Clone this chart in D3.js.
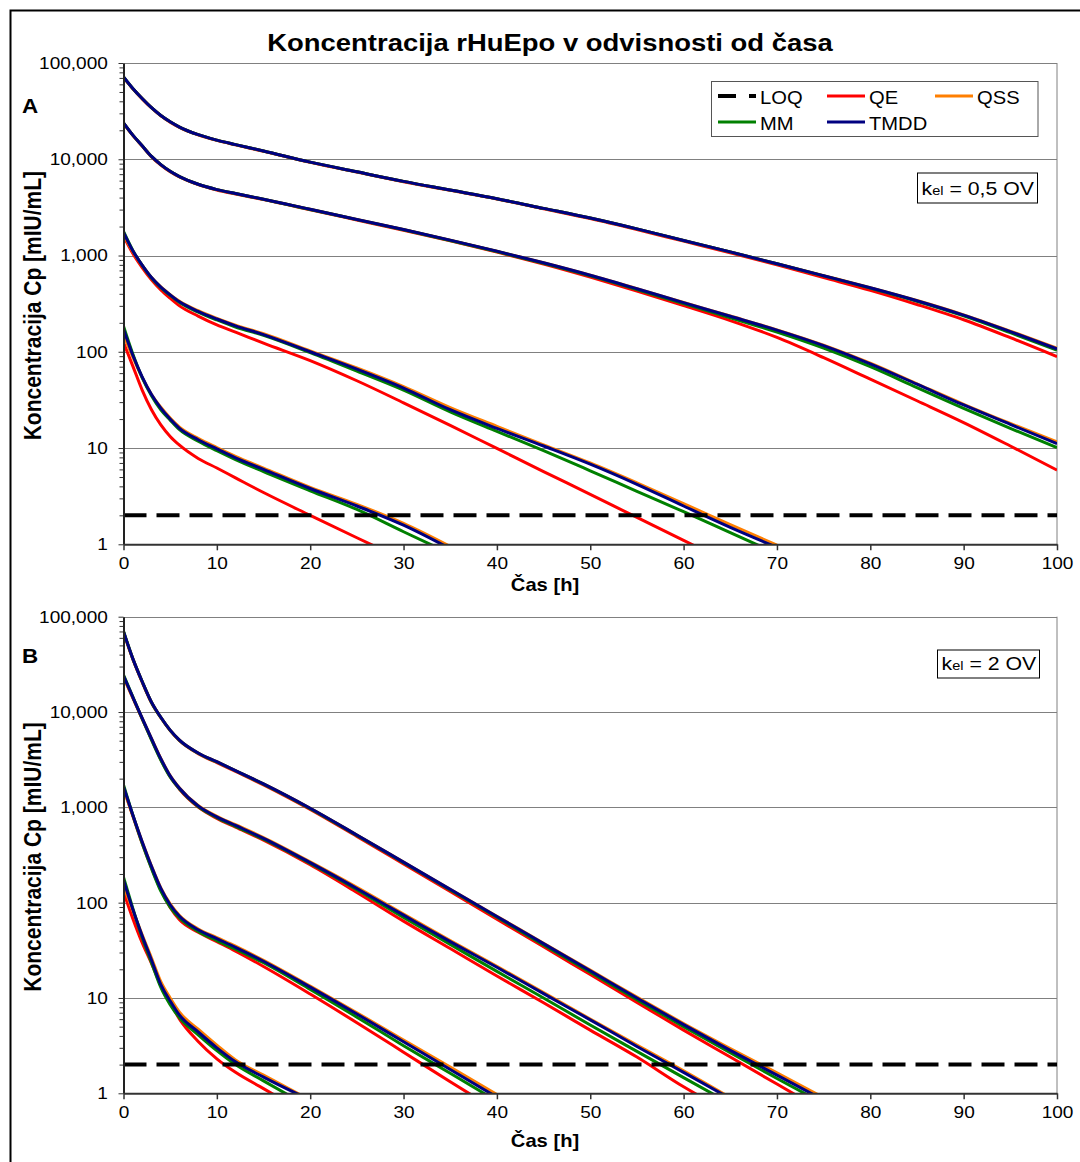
<!DOCTYPE html>
<html>
<head>
<meta charset="utf-8">
<script src="https://cdn.jsdelivr.net/npm/d3@7"></script>
<style>
body { margin: 0; background: #fff; }
text { font-family: Arial, "Liberation Sans", sans-serif; }
</style>
</head>
<body>
<script>
// time grid (h) shared by every series; a row stops once the curve is below 1
var hours = [0, 1, 2, 3, 4, 5, 6, 8, 10, 12, 15, 20, 25, 30, 35, 40, 45, 50, 55, 60, 65, 70, 75, 80, 85, 90, 95, 100];
var yTicks = [1, 10, 100, 1000, 10000, 100000];
var xTicks = [0, 10, 20, 30, 40, 50, 60, 70, 80, 90, 100];
var models = ['QE', 'QSS', 'MM', 'TMDD'];
var loqValue = 2;

// panel A, kel = 0,5 OV : one row per dose level
var qeA = [
	[71000, 53900, 42400, 34100, 28300, 24300, 21400, 17900, 15700, 14100, 12100, 9280, 7360, 5850, 4750, 3860, 3060, 2420, 1860, 1410, 1070, 800, 590, 435, 310, 215, 140, 89],
	[23700, 17700, 13700, 10600, 8720, 7430, 6550, 5450, 4790, 4350, 3810, 2990, 2340, 1830, 1420, 1085, 815, 596, 427, 302, 211, 141, 87, 52, 31, 18.4, 10.5, 5.9],
	[1600, 1050, 750, 560, 440, 360, 300, 235, 190, 160, 123, 81, 50, 29.5, 17.2, 9.9, 5.7, 3.3, 1.9, 1.1, 0.63],
	[125, 71, 40, 25, 17.4, 13.2, 10.7, 7.8, 6.2, 4.9, 3.45, 2.0, 1.17, 0.69]
];
var qssA = [
	[70500, 54100, 42700, 34300, 28500, 24500, 21600, 18000, 15800, 14200, 12200, 9330, 7410, 5890, 4790, 3890, 3090, 2450, 1890, 1435, 1090, 822, 618, 464, 341, 242, 164, 109],
	[23500, 17700, 13800, 10700, 8810, 7500, 6610, 5500, 4840, 4400, 3850, 3020, 2370, 1860, 1445, 1110, 840, 624, 452, 325, 235, 169, 117, 76, 46.5, 28.5, 18, 11.6],
	[1650, 1100, 790, 590, 472, 393, 334, 267, 222, 189, 154, 102, 68, 43.5, 26.3, 16.8, 10.8, 7.0, 4.35, 2.65, 1.6, 0.98],
	[150, 88, 54, 36, 26.5, 20.5, 16.5, 12.6, 10.1, 8.2, 6.2, 3.9, 2.6, 1.65, 0.95]
];
var mmA = [
	[71600, 54300, 42700, 34300, 28500, 24500, 21600, 18000, 15800, 14200, 12200, 9330, 7410, 5890, 4790, 3890, 3090, 2450, 1890, 1435, 1090, 822, 615, 458, 335, 236, 158, 104],
	[23900, 17800, 13800, 10700, 8810, 7500, 6610, 5500, 4840, 4400, 3850, 3010, 2360, 1850, 1435, 1100, 830, 615, 444, 316, 226, 160, 109, 70, 42.5, 25.8, 16, 10.1],
	[1780, 1130, 790, 585, 465, 385, 325, 258, 214, 181, 148, 98, 63, 40, 23.8, 14.9, 9.4, 5.8, 3.55, 2.18, 1.32, 0.8],
	[185, 95, 54, 35, 25, 19.5, 15.5, 11.8, 9.4, 7.6, 5.7, 3.6, 2.3, 1.35, 0.8]
];
var tmddA = [
	[71600, 54300, 42700, 34300, 28500, 24500, 21600, 18000, 15800, 14200, 12200, 9330, 7410, 5890, 4790, 3890, 3090, 2450, 1890, 1435, 1090, 822, 617, 462, 339, 240, 162, 107],
	[23900, 17800, 13800, 10700, 8810, 7500, 6610, 5500, 4840, 4400, 3850, 3020, 2370, 1860, 1445, 1110, 840, 624, 452, 324, 234, 168, 116, 75, 46, 28, 17.6, 11.1],
	[1740, 1120, 795, 590, 470, 390, 330, 263, 219, 186, 151, 100, 66, 42, 25, 16, 10.5, 6.8, 4.2, 2.5, 1.5, 0.93],
	[172, 92, 55, 36, 26, 20, 16, 12.2, 9.8, 7.9, 6.0, 3.8, 2.5, 1.58, 0.9]
];

// panel B, kel = 2 OV
var qeB = [
	[69000, 35800, 20600, 12500, 8700, 6380, 5000, 3660, 2950, 2380, 1720, 950, 495, 255, 131, 67, 34.5, 17.6, 9.0, 4.6, 2.4, 1.25, 0.65],
	[23500, 14100, 8450, 5150, 3170, 2090, 1545, 1005, 766, 620, 452, 250, 128, 64, 33, 17, 8.9, 4.6, 2.4, 1.17, 0.62],
	[1600, 810, 420, 232, 136, 89, 66, 49, 39, 31, 21.4, 11, 5.5, 2.7, 1.32, 0.66],
	[130, 68, 38, 23, 13.5, 8.9, 6.0, 3.5, 2.3, 1.66, 1.12, 0.58]
];
var qssB = [
	[69000, 36300, 20900, 12700, 8810, 6460, 5070, 3720, 3010, 2430, 1760, 977, 513, 266, 138, 72, 37.5, 19.6, 10.2, 5.4, 2.95, 1.64, 0.9],
	[23000, 14200, 8610, 5250, 3250, 2150, 1595, 1045, 805, 657, 482, 268, 145, 76, 40, 21.5, 11.4, 6.0, 3.2, 1.72, 0.9],
	[1550, 820, 435, 242, 143, 97, 73.5, 53, 43, 35, 24.8, 13.3, 7.0, 3.63, 1.88, 0.97],
	[150, 83, 46, 26.3, 14.8, 10, 7.1, 4.7, 3.2, 2.24, 1.55, 0.85]
];
var mmB = [
	[70500, 36300, 20900, 12600, 8760, 6420, 5040, 3700, 2990, 2420, 1750, 970, 508, 263, 136, 70.5, 36, 18.6, 9.6, 5.0, 2.66, 1.43, 0.78],
	[24500, 14400, 8500, 5100, 3130, 2080, 1560, 1020, 780, 632, 463, 258, 137, 70, 36.5, 19, 10, 5.2, 2.75, 1.46, 0.78],
	[1720, 830, 420, 228, 132, 90, 69, 50, 40, 32.5, 23.4, 12.3, 6.3, 3.16, 1.62, 0.83],
	[185, 87, 43, 23.5, 12.9, 8.5, 6.2, 4.1, 2.8, 2.0, 1.35, 0.71]
];
var tmddB = [
	[69800, 36300, 20900, 12700, 8810, 6460, 5070, 3720, 3010, 2430, 1760, 977, 513, 266, 138, 71.6, 37.2, 19.3, 10, 5.25, 2.82, 1.55, 0.85],
	[23900, 14300, 8610, 5250, 3240, 2140, 1585, 1035, 794, 646, 473, 263, 141, 74, 39, 21, 11.1, 5.9, 3.1, 1.66, 0.88],
	[1650, 830, 435, 240, 141, 95, 72, 52, 42, 34, 24.3, 13.0, 6.8, 3.47, 1.78, 0.91],
	[173, 85, 45, 25, 13.8, 9.3, 6.6, 4.4, 3.0, 2.14, 1.48, 0.85]
];

var colors = { LOQ: '#000000', QE: '#ff0000', QSS: '#ff7f00', MM: '#008000', TMDD: '#000080' };

var width = 1080, height = 1162;
var sx = 1.12; // the source picture is stretched sideways, text follows it
var x0 = 123.5, x1 = 1057;

var panels = [
	{ id: 'A', top: 63, bottom: 544.3, series: { QE: qeA, QSS: qssA, MM: mmA, TMDD: tmddA },
		kel: '0,5 OV', box: [917.5, 173, 120, 30], labelY: 113, titleY: 591 },
	{ id: 'B', top: 616.7, bottom: 1093.3, series: { QE: qeB, QSS: qssB, MM: mmB, TMDD: tmddB },
		kel: '2 OV', box: [937.5, 650, 102, 28], labelY: 663, titleY: 1147 }
];

var svg = d3.select('body').append('svg').attr('width', width).attr('height', height);
svg.append('rect').attr('width', width).attr('height', height).attr('fill', '#fff');
svg.append('rect').attr('x', 10.5).attr('y', 10.5).attr('width', width).attr('height', height)
	.attr('fill', 'none').attr('stroke', '#000').attr('stroke-width', 2);

function stretched(x, y, extra) {
	return 'translate(' + x + ',' + y + ') scale(' + sx + ',1)' + (extra || '');
}

svg.append('text').attr('transform', stretched(550, 50.5))
	.attr('text-anchor', 'middle').attr('font-size', 24.5).attr('font-weight', 'bold')
	.text('Koncentracija rHuEpo v odvisnosti od časa');

function drawPanel(p) {
	var g = svg.append('g');
	var x = d3.scaleLinear().domain([0, 100]).range([x0, x1]);
	var y = d3.scaleLog().domain([1, 100000]).range([p.bottom, p.top]);

	// gridlines + right edge of the plot area
	g.append('g').selectAll('line').data(yTicks.slice(1)).join('line')
		.attr('x1', x0).attr('x2', x1).attr('y1', d => Math.round(y(d)) + 0.5).attr('y2', d => Math.round(y(d)) + 0.5)
		.attr('stroke', '#808080').attr('stroke-width', 1);
	g.append('line').attr('x1', x1).attr('x2', x1).attr('y1', p.top).attr('y2', p.bottom)
		.attr('stroke', '#808080').attr('stroke-width', 1);

	svg.append('clipPath').attr('id', 'clip' + p.id).append('rect')
		.attr('x', x0).attr('y', p.top).attr('width', x1 - x0).attr('height', p.bottom - p.top);

	var line = d3.line().x(d => x(d[0])).y(d => y(d[1])).curve(d3.curveMonotoneX);
	var curves = g.append('g').attr('clip-path', 'url(#clip' + p.id + ')');

	models.forEach(m => {
		p.series[m].forEach(row => {
			curves.append('path')
				.datum(row.map((v, i) => [hours[i], v]))
				.attr('d', line)
				.attr('fill', 'none')
				.attr('stroke', colors[m])
				.attr('stroke-width', 3)
				.attr('stroke-linejoin', 'round');
		});
	});

	curves.append('path').datum([[0, loqValue], [100, loqValue]])
		.attr('d', line).attr('fill', 'none').attr('stroke', colors.LOQ)
		.attr('stroke-width', 4).attr('stroke-dasharray', '23,10');

	// axes
	var minor = [];
	yTicks.slice(0, -1).forEach(d => { for (var k = 2; k < 10; k++) minor.push(d * k); });
	g.append('g').attr('transform', 'translate(' + x0 + ',0)')
		.call(d3.axisLeft(y).tickValues(minor).tickSize(4).tickSizeOuter(0).tickFormat(''))
		.call(a => a.select('.domain').remove())
		.selectAll('line').attr('stroke', '#333');

	var ya = g.append('g').attr('transform', 'translate(' + x0 + ',0)')
		.call(d3.axisLeft(y).tickValues(yTicks).tickSize(5).tickSizeOuter(0).tickPadding(9).tickFormat(d3.format(',')));
	ya.select('.domain').attr('stroke', '#222').attr('stroke-width', 2);
	ya.selectAll('line').attr('stroke', '#333');
	ya.selectAll('text').attr('font-size', 17).attr('fill', '#000')
		.attr('font-family', 'Arial, "Liberation Sans", sans-serif')
		.attr('transform', 'scale(' + sx + ',1)');

	var xa = g.append('g').attr('transform', 'translate(0,' + p.bottom + ')')
		.call(d3.axisBottom(x).tickValues(xTicks).tickSize(6).tickSizeOuter(0).tickPadding(7));
	xa.select('.domain').attr('stroke', '#333').attr('stroke-width', 2);
	xa.selectAll('line').attr('stroke', '#333').attr('stroke-width', 1.5);
	xa.selectAll('text').attr('font-size', 17).attr('fill', '#000')
		.attr('font-family', 'Arial, "Liberation Sans", sans-serif')
		.attr('transform', 'scale(' + sx + ',1)');

	// axis titles
	svg.append('text').attr('transform', stretched(545, p.titleY))
		.attr('text-anchor', 'middle').attr('font-size', 18).attr('font-weight', 'bold')
		.text('Čas [h]');
	svg.append('text').attr('transform', stretched(41, (p.top + p.bottom) / 2 + 2, ' rotate(-90)'))
		.attr('text-anchor', 'middle').attr('font-size', 21).attr('font-weight', 'bold')
		.text('Koncentracija Cp [mIU/mL]');

	// panel letter
	svg.append('text').attr('transform', stretched(22, p.labelY))
		.attr('font-size', 20).attr('font-weight', 'bold').text(p.id);

	// kel box
	svg.append('rect').attr('x', p.box[0]).attr('y', p.box[1]).attr('width', p.box[2]).attr('height', p.box[3])
		.attr('fill', '#fff').attr('stroke', '#000').attr('stroke-width', 1);
	var kt = svg.append('text').attr('transform', stretched(p.box[0] + 4, p.box[1] + p.box[3] - 8))
		.attr('font-size', 19);
	kt.append('tspan').text('k');
	kt.append('tspan').attr('font-size', 13).text('el');
	kt.append('tspan').text(' = ' + p.kel);
}

panels.forEach(drawPanel);

// legend
var legendItems = [
	{ name: 'LOQ', x: 718, y: 96 }, { name: 'QE', x: 827, y: 96 }, { name: 'QSS', x: 935, y: 96 },
	{ name: 'MM', x: 718, y: 122 }, { name: 'TMDD', x: 827, y: 122 }
];
var lg = svg.append('g');
lg.append('rect').attr('x', 711.5).attr('y', 81.5).attr('width', 326.5).attr('height', 55)
	.attr('fill', '#fff').attr('stroke', '#555').attr('stroke-width', 1);
legendItems.forEach(d => {
	var ln = lg.append('line').attr('x1', d.x).attr('x2', d.x + 38).attr('y1', d.y).attr('y2', d.y)
		.attr('stroke', colors[d.name]).attr('stroke-width', d.name === 'LOQ' ? 4 : 3);
	if (d.name === 'LOQ') ln.attr('stroke-dasharray', '18,13');
	lg.append('text').attr('transform', stretched(d.x + 42, d.y + 7.5))
		.attr('font-size', 18).text(d.name);
});
</script>
</body>
</html>
